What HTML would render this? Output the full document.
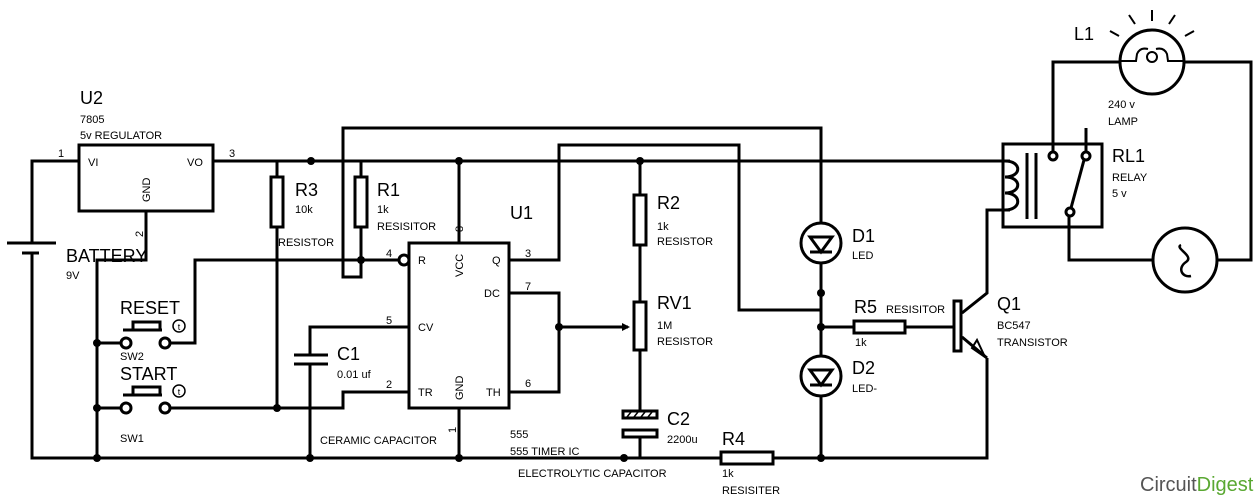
<!DOCTYPE html>
<html><head><meta charset="utf-8"><style>
html,body{margin:0;padding:0;background:#fff}
svg{display:block}
text{font-family:"Liberation Sans",Arial,sans-serif;fill:#000}
.s{font-size:11px}
.b{font-size:18px}
</style></head><body>
<svg width="1260" height="502" viewBox="0 0 1260 502" xmlns="http://www.w3.org/2000/svg">
<g fill="none" stroke="#000" stroke-width="3">
<polyline points="79,161 32,161 32,243"/>
<line x1="7" y1="243" x2="56" y2="243"/>
<line x1="22" y1="253" x2="39" y2="253"/>
<polyline points="32,253 32,458 987,458 987,358"/>
<rect x="79" y="145" width="134" height="66"/>
<polyline points="146,211 146,260 97,260 97,458"/>
<line x1="213" y1="161" x2="1010" y2="161"/>
<line x1="277" y1="161" x2="277" y2="408"/>
<rect x="271" y="177" width="12" height="50" fill="#fff"/>
<line x1="361" y1="161" x2="361" y2="177"/>
<rect x="355" y="177" width="12" height="50" fill="#fff"/>
<polyline points="361,227 361,277 343,277 343,128 821,128 821,223"/>
<polyline points="170,343 195,343 195,260 399,260"/>
<circle cx="404" cy="260" r="5"/>
<rect x="409" y="243" width="100" height="165"/>
<line x1="459" y1="161" x2="459" y2="243"/>
<line x1="459" y1="408" x2="459" y2="458"/>
<polyline points="409,327 310,327 310,355"/>
<line x1="294" y1="355" x2="328" y2="355"/>
<line x1="294" y1="364" x2="328" y2="364"/>
<line x1="310" y1="364" x2="310" y2="458"/>
<polyline points="409,392 343,392 343,408 170,408"/>
<line x1="97" y1="343" x2="121" y2="343"/>
<line x1="97" y1="408" x2="121" y2="408"/>
<circle cx="126" cy="343" r="5"/><circle cx="165" cy="343" r="5"/>
<circle cx="126" cy="408" r="5"/><circle cx="165" cy="408" r="5"/>
<line x1="123" y1="330" x2="162" y2="330"/>
<polyline points="133,330 133,322 160,322 160,330"/>
<line x1="123" y1="395" x2="162" y2="395"/>
<polyline points="133,395 133,387 160,387 160,395"/>
<polyline points="509,260 559,260 559,145 739,145 739,310 821,310"/>
<polyline points="509,293 559,293 559,392 509,392"/>
<line x1="559" y1="327" x2="628" y2="327"/>
<line x1="640" y1="161" x2="640" y2="410"/>
<rect x="634" y="195" width="12" height="50" fill="#fff"/>
<rect x="634" y="302" width="12" height="48" fill="#fff"/>
<rect x="623" y="411" width="34" height="7" fill="#fff"/>
<rect x="623" y="430" width="34" height="7" fill="#fff"/>
<line x1="640" y1="437" x2="640" y2="458"/>
<line x1="821" y1="263" x2="821" y2="356"/>
<line x1="821" y1="396" x2="821" y2="458"/>
<circle cx="821" cy="243" r="20"/>
<circle cx="821" cy="376" r="20"/>
<polygon points="810,237 832,237 821,252"/><line x1="810" y1="252" x2="832" y2="252"/>
<polygon points="810,370 832,370 821,385"/><line x1="810" y1="385" x2="832" y2="385"/>
<line x1="821" y1="327" x2="954" y2="327"/>
<rect x="854" y="321" width="51" height="12" fill="#fff"/>
<rect x="721" y="452" width="52" height="12" fill="#fff"/>
<rect x="954" y="301" width="7" height="50" fill="#fff"/>
<polyline points="962,313 987,293 987,210 1010,210"/>
<line x1="962" y1="337" x2="987" y2="358"/>
<polygon points="972,348 985,357 977,340" stroke-width="2"/>
<rect x="1003" y="144" width="99" height="83"/>
<path d="M1005,161 C1022,161 1022,177 1005,177 C1022,177 1022,193 1005,193 C1022,193 1022,210 1005,210"/>
<line x1="1027" y1="153" x2="1027" y2="219"/>
<line x1="1036" y1="153" x2="1036" y2="219"/>
<line x1="1086" y1="128" x2="1086" y2="152"/>
<line x1="1084" y1="160" x2="1071" y2="208"/>
<circle cx="1053" cy="156" r="4" fill="#fff"/>
<circle cx="1086" cy="156" r="4" fill="#fff"/>
<circle cx="1070" cy="212" r="4" fill="#fff"/>
<polyline points="1053,152 1053,62 1120,62"/>
<polyline points="1184,62 1251,62 1251,260 1217,260"/>
<polyline points="1153,260 1069,260 1069,216"/>
<circle cx="1152" cy="62" r="32"/>
<circle cx="1185" cy="260" r="32"/>
<path d="M1181,245 C1174,248 1195,256 1186,262 C1177,268 1182,278 1191,276" stroke-width="2.5"/>
</g>
<g fill="none" stroke="#000" stroke-width="2">
<path d="M1120,61 L1136,61 L1137,54 Q1140,47 1148,49 M1184,61 L1168,61 L1167,54 Q1164,47 1156,49"/>
<circle cx="1152" cy="57" r="5"/>
<line x1="1152" y1="10" x2="1152" y2="21"/>
<line x1="1129" y1="15" x2="1135" y2="24"/>
<line x1="1175" y1="15" x2="1169" y2="24"/>
<line x1="1110" y1="31" x2="1119" y2="36"/>
<line x1="1194" y1="31" x2="1185" y2="36"/>
<circle cx="179" cy="326" r="6" stroke-width="1.5"/>
<circle cx="179" cy="391" r="6" stroke-width="1.5"/>
</g>
<polygon points="630,327 622,323 622,331" fill="#000"/>
<g fill="#000">
<circle cx="311" cy="161" r="4"/><circle cx="459" cy="161" r="4"/><circle cx="640" cy="161" r="4"/>
<circle cx="361" cy="260" r="4"/><circle cx="97" cy="343" r="4"/><circle cx="97" cy="408" r="4"/>
<circle cx="277" cy="408" r="4"/><circle cx="97" cy="458" r="4"/><circle cx="310" cy="458" r="4"/>
<circle cx="459" cy="458" r="4"/><circle cx="624" cy="458" r="4"/><circle cx="821" cy="458" r="4"/>
<circle cx="559" cy="327" r="4"/><circle cx="821" cy="293" r="4"/><circle cx="821" cy="327" r="4"/>
</g>
<g stroke="#000" stroke-width="1.5">
<line x1="627" y1="417" x2="631" y2="412"/><line x1="634" y1="417" x2="638" y2="412"/><line x1="641" y1="417" x2="645" y2="412"/><line x1="648" y1="417" x2="652" y2="412"/>
</g>
<text x="179" y="330" font-size="9" text-anchor="middle">t</text>
<text x="179" y="395" font-size="9" text-anchor="middle">t</text>
<text class="b" x="80" y="104">U2</text>
<text class="s" x="80" y="123">7805</text>
<text class="s" x="80" y="139">5v REGULATOR</text>
<text class="s" x="58" y="157">1</text>
<text class="s" x="88" y="166">VI</text>
<text class="s" x="187" y="166">VO</text>
<text class="s" x="229" y="157">3</text>
<text class="s" transform="translate(150,202) rotate(-90)">GND</text>
<text class="s" transform="translate(143,237) rotate(-90)">2</text>
<text class="b" x="66" y="262">BATTERY</text>
<text class="s" x="66" y="279">9V</text>
<text class="b" x="295" y="196">R3</text>
<text class="s" x="295" y="213">10k</text>
<text class="s" x="278" y="246">RESISTOR</text>
<text class="b" x="377" y="196">R1</text>
<text class="s" x="377" y="213">1k</text>
<text class="s" x="377" y="230">RESISITOR</text>
<text class="s" transform="translate(463,232) rotate(-90)">8</text>
<text class="b" x="510" y="219">U1</text>
<text class="s" x="386" y="257">4</text>
<text class="s" x="418" y="264">R</text>
<text class="s" transform="translate(463,277) rotate(-90)">VCC</text>
<text class="s" x="492" y="264">Q</text>
<text class="s" x="484" y="297">DC</text>
<text class="s" x="386" y="324">5</text>
<text class="s" x="418" y="331">CV</text>
<text class="s" x="386" y="388">2</text>
<text class="s" x="418" y="396">TR</text>
<text class="s" transform="translate(463,400) rotate(-90)">GND</text>
<text class="s" x="486" y="396">TH</text>
<text class="s" transform="translate(456,433) rotate(-90)">1</text>
<text class="s" x="525" y="257">3</text>
<text class="s" x="525" y="290">7</text>
<text class="s" x="525" y="387">6</text>
<text class="b" x="120" y="314">RESET</text>
<text class="s" x="120" y="360">SW2</text>
<text class="b" x="120" y="380">START</text>
<text class="s" x="120" y="442">SW1</text>
<text class="b" x="337" y="360">C1</text>
<text class="s" x="337" y="378">0.01 uf</text>
<text class="s" x="320" y="444">CERAMIC CAPACITOR</text>
<text class="s" x="510" y="438">555</text>
<text class="s" x="510" y="455">555 TIMER IC</text>
<text class="s" x="518" y="477">ELECTROLYTIC CAPACITOR</text>
<text class="b" x="657" y="209">R2</text>
<text class="s" x="657" y="230">1k</text>
<text class="s" x="657" y="245">RESISTOR</text>
<text class="b" x="657" y="309">RV1</text>
<text class="s" x="657" y="329">1M</text>
<text class="s" x="657" y="345">RESISTOR</text>
<text class="b" x="667" y="425">C2</text>
<text class="s" x="667" y="443">2200u</text>
<text class="b" x="722" y="445">R4</text>
<text class="s" x="722" y="477">1k</text>
<text class="s" x="722" y="494">RESISITER</text>
<text class="b" x="852" y="242">D1</text>
<text class="s" x="852" y="259">LED</text>
<text class="b" x="852" y="374">D2</text>
<text class="s" x="852" y="392">LED-</text>
<text class="b" x="854" y="313">R5</text>
<text class="s" x="886" y="313">RESISITOR</text>
<text class="s" x="855" y="346">1k</text>
<text class="b" x="997" y="310">Q1</text>
<text class="s" x="997" y="329">BC547</text>
<text class="s" x="997" y="346">TRANSISTOR</text>
<text class="b" x="1112" y="162">RL1</text>
<text class="s" x="1112" y="181">RELAY</text>
<text class="s" x="1112" y="197">5 v</text>
<text class="b" x="1074" y="40">L1</text>
<text class="s" x="1108" y="108">240 v</text>
<text class="s" x="1108" y="125">LAMP</text>
<text x="1140" y="491" font-size="20" style="fill:#555">Circuit<tspan style="fill:#5aa832">Digest</tspan></text>
</svg>
</body></html>
